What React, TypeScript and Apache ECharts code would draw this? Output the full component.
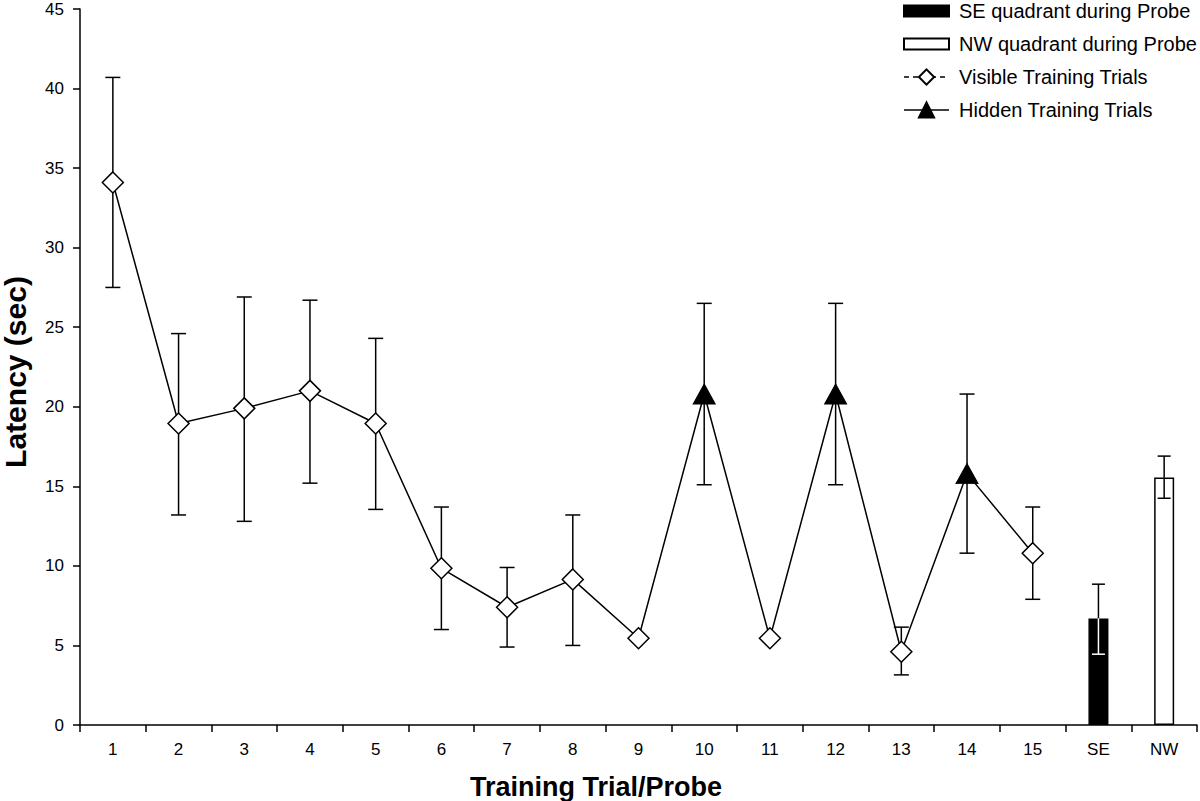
import React, { useEffect, useRef } from "react";
import * as echarts from "echarts";

const categories = ["1", "2", "3", "4", "5", "6", "7", "8", "9", "10", "11", "12", "13", "14", "15", "SE", "NW"];
const trialMeans = [34.1, 18.95, 19.9, 21.0, 18.95, 9.85, 7.4, 9.15, 5.45, 20.8, 5.45, 20.8, 4.6, 15.8, 10.8];
const trialHigh = [40.7, 24.6, 26.9, 26.7, 24.3, 13.7, 9.9, 13.2, null, 26.5, null, 26.5, 6.15, 20.8, 13.7];
const trialLow = [27.5, 13.2, 12.8, 15.2, 13.55, 6.0, 4.9, 5.0, null, 15.1, null, 15.1, 3.15, 10.8, 7.9];
const hiddenTrials = ["10", "12", "14"];
const probeNames = ["SE", "NW"];
const probeMeans = [6.7, 15.55];
const probeHigh = [8.85, 16.9];
const probeLow = [4.45, 14.25];
const seriesNames = ["SE quadrant during Probe", "NW quadrant during Probe", "Visible Training Trials", "Hidden Training Trials"];

const FONT = '"Liberation Sans", Arial, Helvetica, sans-serif';
const BLACK = "#000";
const probeFills = ["#000", "#fff"];

export default function App() {
  const ref = useRef<HTMLDivElement>(null);
  useEffect(() => {
    if (!ref.current) return;
    const chart = echarts.init(ref.current, null, { renderer: "svg" });

    const nTrials = trialMeans.length;
    const lineData = categories.map((_, i) => (i < nTrials ? trialMeans[i] : null));
    const visibleData = categories.map((c, i) => (i < nTrials && !hiddenTrials.includes(c) ? trialMeans[i] : null));
    const hiddenData = categories.map((c, i) => (i < nTrials && hiddenTrials.includes(c) ? trialMeans[i] : null));
    const probeData = probeNames.map((p, k) => categories.map((c) => (c === p ? probeMeans[k] : null)));

    const trialErr: number[][] = [];
    for (let i = 0; i < nTrials; i++) {
      if (trialHigh[i] != null && trialLow[i] != null) trialErr.push([i, trialLow[i] as number, trialHigh[i] as number]);
    }
    const probeErr = probeNames.map((p, k) => [categories.indexOf(p), probeLow[k], probeHigh[k], probeMeans[k], k]);

    const lw = 1.5;
    const renderTrialErr = (params: any, api: any) => {
      const x = api.value(0);
      const top = api.coord([x, api.value(2)]);
      const bot = api.coord([x, api.value(1)]);
      const hw = 7.5;
      const st = { stroke: BLACK, lineWidth: lw };
      return {
        type: "group",
        children: [
          { type: "line", shape: { x1: top[0], y1: top[1], x2: bot[0], y2: bot[1] }, style: st },
          { type: "line", shape: { x1: top[0] - hw, y1: top[1], x2: top[0] + hw, y2: top[1] }, style: st },
          { type: "line", shape: { x1: bot[0] - hw, y1: bot[1], x2: bot[0] + hw, y2: bot[1] }, style: st },
        ],
      };
    };
    const renderProbeErr = (params: any, api: any) => {
      const x = api.value(0);
      const top = api.coord([x, api.value(2)]);
      const bot = api.coord([x, api.value(1)]);
      const mid = api.coord([x, api.value(3)]);
      const k = api.value(4);
      const inner = probeFills[k] === "#000" ? "#fff" : BLACK;
      const hw = 6.5;
      const outer = { stroke: BLACK, lineWidth: lw };
      const ins = { stroke: inner, lineWidth: lw };
      return {
        type: "group",
        children: [
          { type: "line", shape: { x1: top[0], y1: top[1], x2: mid[0], y2: mid[1] }, style: outer },
          { type: "line", shape: { x1: mid[0], y1: mid[1], x2: bot[0], y2: bot[1] }, style: ins },
          { type: "line", shape: { x1: top[0] - hw, y1: top[1], x2: top[0] + hw, y2: top[1] }, style: outer },
          { type: "line", shape: { x1: bot[0] - hw, y1: bot[1], x2: bot[0] + hw, y2: bot[1] }, style: ins },
        ],
      };
    };

    const option: any = {
      animation: false,
      backgroundColor: "#fff",
      textStyle: { fontFamily: FONT, color: BLACK },
      grid: { left: 80, right: 3, top: 9, bottom: 76, containLabel: false },
      legend: {
        orient: "vertical",
        left: 903,
        top: 1,
        padding: 0,
        itemWidth: 45,
        itemHeight: 19,
        itemGap: 13,
        selectedMode: false,
        textStyle: { fontSize: 20, fontFamily: FONT, color: BLACK, padding: [0, 0, 0, 5] },
        data: [
          { name: seriesNames[0], icon: "path://M0,0h45v11h-45z" },
          { name: seriesNames[1], icon: "path://M0,0h45v11h-45z" },
          { name: seriesNames[2], lineStyle: { type: [5, 4], opacity: 1, width: 1.5, color: BLACK } },
          { name: seriesNames[3], lineStyle: { type: "solid", opacity: 1, width: 1.5, color: BLACK } },
        ],
      },
      xAxis: {
        type: "category",
        data: categories,
        boundaryGap: true,
        axisLine: { show: true, lineStyle: { color: BLACK, width: 1.5 } },
        axisTick: { show: true, length: 7, lineStyle: { color: BLACK, width: 1.5 } },
        axisLabel: { fontSize: 17, color: BLACK, margin: 16, fontFamily: FONT, interval: 0 },
        splitLine: { show: false },
      },
      yAxis: {
        type: "value",
        min: 0,
        max: 45,
        interval: 5,
        axisLine: { show: true, lineStyle: { color: BLACK, width: 1.5 } },
        axisTick: { show: true, length: 7, lineStyle: { color: BLACK, width: 1.5 } },
        axisLabel: { fontSize: 17, color: BLACK, margin: 16, fontFamily: FONT },
        splitLine: { show: false },
      },
      graphic: [
        {
          type: "text",
          x: 15,
          y: 372,
          rotation: Math.PI / 2,
          style: {
            text: "Latency (sec)",
            fontSize: 30,
            fontWeight: "bold",
            fontFamily: FONT,
            fill: BLACK,
            align: "center",
            verticalAlign: "middle",
          },
        },
        {
          type: "text",
          x: 596,
          y: 787,
          style: {
            text: "Training Trial/Probe",
            fontSize: 27,
            fontWeight: "bold",
            fontFamily: FONT,
            fill: BLACK,
            align: "center",
            verticalAlign: "middle",
          },
        },
      ],
      series: [
        {
          name: seriesNames[0],
          type: "bar",
          data: probeData[0],
          barWidth: 20,
          barGap: "-100%",
          itemStyle: { color: probeFills[0], borderColor: BLACK, borderWidth: 1.5 },
          z: 2,
        },
        {
          name: seriesNames[1],
          type: "bar",
          data: probeData[1],
          barWidth: 20,
          barGap: "-100%",
          itemStyle: { color: probeFills[1], borderColor: BLACK, borderWidth: 1.5 },
          z: 2,
        },
        {
          name: "probeErr",
          type: "custom",
          data: probeErr,
          encode: { x: 0, y: [1, 2] },
          renderItem: renderProbeErr,
          z: 3,
          silent: true,
        },
        {
          name: "trialErr",
          type: "custom",
          data: trialErr,
          encode: { x: 0, y: [1, 2] },
          renderItem: renderTrialErr,
          z: 3,
          silent: true,
        },
        {
          name: "trialLine",
          type: "line",
          data: lineData,
          symbol: "none",
          lineStyle: { color: BLACK, width: 1.5 },
          z: 4,
          silent: true,
        },
        {
          name: seriesNames[2],
          type: "line",
          data: visibleData,
          symbol: "diamond",
          symbolSize: 21,
          showAllSymbol: true,
          connectNulls: false,
          lineStyle: { opacity: 0, width: 1.5, color: BLACK },
          itemStyle: { color: "#fff", borderColor: BLACK, borderWidth: 1.5 },
          z: 5,
        },
        {
          name: seriesNames[3],
          type: "line",
          data: hiddenData,
          symbol: "triangle",
          symbolSize: [22, 20],
          showAllSymbol: true,
          connectNulls: false,
          lineStyle: { opacity: 0, width: 1.5, color: BLACK },
          itemStyle: { color: BLACK, borderColor: BLACK, borderWidth: 1 },
          z: 5,
        },
      ],
    };
    chart.setOption(option);
    return () => chart.dispose();
  }, []);

  return <div ref={ref} style={{ position: "fixed", left: 0, top: 0, width: 1200, height: 801, background: "#fff" }} />;
}
